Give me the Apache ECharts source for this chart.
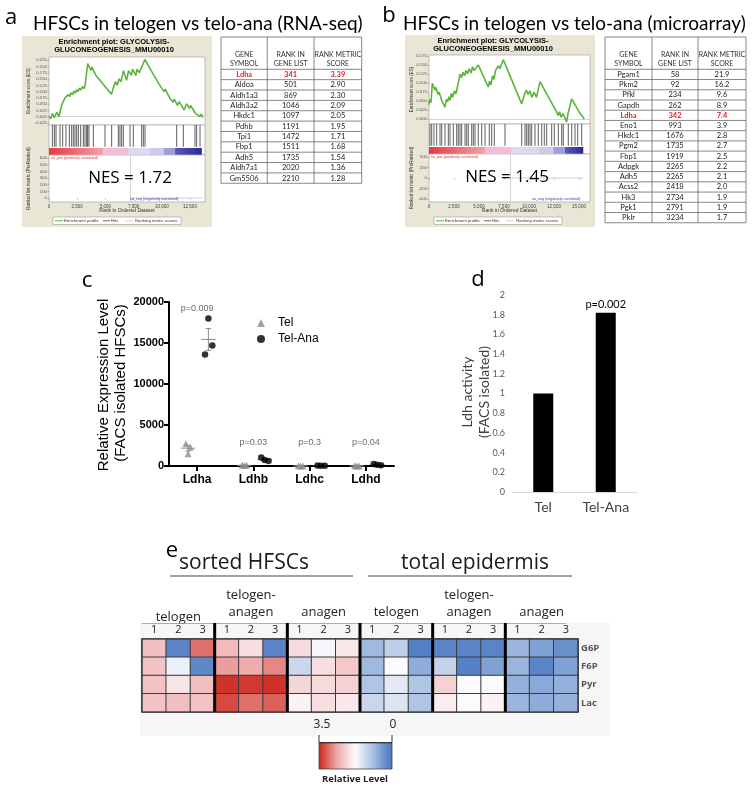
<!DOCTYPE html>
<html>
<head>
<meta charset="utf-8">
<script src="https://cdn.jsdelivr.net/npm/echarts@6.0.0/dist/echarts.min.js"></script>
<style>
html,body{margin:0;padding:0;background:#fff;}
#main{width:754px;height:790px;}
</style>
</head>
<body>
<div id="main"></div>
<script>
// ================= DATA =================
// Panel a (RNA-seq GSEA)
const esCurveA = [[0,0],[150,-0.008],[300,0.013],[470,-0.004],[680,0.018],[880,0.0],[1120,0.046],[1250,0.04],[1420,0.075],[1550,0.068],[1700,0.088],[1820,0.08],[1950,0.095],[2080,0.087],[2200,0.102],[2330,0.094],[2450,0.108],[2580,0.1],[2700,0.114],[2830,0.106],[2960,0.12],[3100,0.112],[3200,0.125],[3300,0.12],[3430,0.212],[3730,0.185],[3800,0.198],[4150,0.165],[4250,0.172],[4700,0.135],[4800,0.14],[5250,0.105],[5550,0.09],[5700,0.115],[5800,0.108],[5900,0.14],[6050,0.125],[6200,0.15],[6400,0.14],[6590,0.184],[6880,0.145],[7050,0.184],[7300,0.165],[7400,0.19],[7700,0.165],[7800,0.19],[8000,0.175],[8500,0.228],[9300,0.165],[9900,0.12],[10200,0.1],[10300,0.11],[10700,0.075],[11000,0.058],[11100,0.07],[11400,0.045],[11550,0.06],[11980,0.027],[12200,0.051],[12450,0.033],[12550,0.045],[13000,0.012],[13380,0.0],[13500,0.01],[13650,-0.003]];
const hitsA = [296,473,621,975,1212,1507,1803,2009,2157,2305,2453,2600,2807,3044,3191,3339,3428,3546,3930,4965,5556,6147,6294,6442,6590,7181,7476,8215,8363,8511,11318,11909,12943,13091,13387];
const bandBreaksA = [0,4800,7000,8950,10150,11150,13550];
const zeroCrossA = 7200;
const nesA = '1.72';
const esTicksA = [-0.025,0,0.025,0.05,0.075,0.1,0.125,0.15,0.175,0.2,0.225];
const metricTicksA = [0,100,200,300,400,500,600];
const rankTicksA = [0,2500,5000,7500,10000,12500];

// Panel b (microarray GSEA)
const esCurveB = [[0,0.04],[100,0.055],[200,0.045],[330,0.099],[600,0.08],[700,0.088],[900,0.068],[1000,0.075],[1300,0.05],[1600,0.033],[1750,0.055],[1850,0.048],[2000,0.062],[2100,0.052],[2250,0.072],[2350,0.06],[2550,0.078],[2700,0.07],[2930,0.1],[3100,0.125],[3250,0.115],[3400,0.13],[3550,0.12],[3700,0.135],[3850,0.125],[4000,0.14],[4200,0.128],[4350,0.145],[4500,0.135],[4930,0.15],[5930,0.089],[6050,0.105],[6200,0.095],[6350,0.12],[6500,0.11],[6650,0.135],[6800,0.13],[6950,0.148],[7100,0.14],[7430,0.165],[9270,0.042],[9570,0.07],[9750,0.08],[9900,0.068],[10100,0.078],[10300,0.06],[10500,0.075],[10750,0.06],[11100,0.104],[12770,0.019],[12900,0.01],[13050,0.02],[13200,0.005],[13400,0.015],[13770,-0.008],[13900,0.015],[14270,0.056],[14500,0.045],[14700,0.035],[15000,0.02],[15100,0.025],[15530,0.0]];
const hitsB = [100,270,500,770,1100,1270,1600,1930,2100,2430,2770,2930,3100,3270,3600,3770,3930,4270,4430,4600,4930,5270,5600,6030,6270,6530,7600,9270,9600,9770,9930,10100,10270,10600,10930,11270,11530,11770,12270,12530,12930,13270,13430,13930,14270,14600,14870,15270];
const bandBreaksB = [0,5600,8270,10930,12430,13600,15430];
const zeroCrossB = 8100;
const nesB = '1.45';
const esTicksB = [0,0.025,0.05,0.075,0.1,0.125,0.15,0.175];
const metricTicksB = [-500,-250,0,250,500];
const rankTicksB = [0,2500,5000,7500,10000,12500,15000];

// Tables
const tableHeader = [['GENE','SYMBOL'],['RANK IN','GENE LIST'],['RANK METRIC','SCORE']];
const genesA = ['Ldha','Aldoa','Aldh1a3','Aldh3a2','Hkdc1','Pdhb','Tpi1','Fbp1','Adh5','Aldh7a1','Gm5506'];
const ranksA = [341,501,869,1046,1097,1191,1472,1511,1735,2020,2210];
const scoresA = ['3.39','2.90','2.30','2.09','2.05','1.95','1.71','1.68','1.54','1.36','1.28'];
const genesB = ['Pgam1','Pkm2','Pfkl','Gapdh','Ldha','Eno1','Hkdc1','Pgm2','Fbp1','Adpgk','Adh5','Acss2','Hk3','Pgk1','Pklr'];
const ranksB = [58,92,234,262,342,993,1676,1735,1919,2265,2265,2418,2734,2791,3234];
const scoresB = ['21.9','16.2','9.6','8.9','7.4','3.9','2.8','2.7','2.5','2.2','2.1','2.0','1.9','1.9','1.7'];

// Panel c
const cGenes = ['Ldha','Ldhb','Ldhc','Ldhd'];
const cTel = [[2700,2300,1500],[120,80,60],[20,15,10],[20,15,10]];
const cTelAna = [[13600,18000,14700],[1050,730,600],[60,40,30],[250,150,100]];
const cPvals = ['p=0.009','p=0.03','p=0.3','p=0.04'];

// Panel d
const dCats = ['Tel','Tel-Ana'];
const dVals = [1.0, 1.82];
const dPval = 'p=0.002';

// Panel e
const eSections = ['sorted HFSCs','total epidermis'];
const eGroups = ['telogen','telogen-\nanagen','anagen','telogen','telogen-\nanagen','anagen'];
const eColNums = ['1','2','3','1','2','3','1','2','3','1','2','3','1','2','3','1','2','3'];
const eRows = ['G6P','F6P','Pyr','Lac'];
const eG6P = [2.4,0.2,3.0, 2.45,2.05,0.2, 2.1,1.7,1.95, 0.85,1.15,0.15, 0.2,0.2,0.2, 0.8,0.55,0.35];
const eF6P = [2.35,1.6,0.25, 2.7,2.6,2.85, 1.25,2.05,2.3, 0.85,1.75,0.7, 1.2,0.15,0.55, 0.8,0.2,0.55];
const ePyr = [2.35,2.0,2.4, 3.4,3.35,3.4, 2.15,2.1,2.2, 1.0,1.5,1.0, 2.2,1.75,1.75, 0.75,0.65,0.75];
const eLac = [2.35,2.4,2.35, 3.25,3.0,3.1, 1.85,2.05,1.95, 1.25,1.45,1.0, 1.9,1.75,1.85, 0.8,0.7,0.75];
const eScale = [3.5, 0];

// ================= BUILD =================
const chart = echarts.init(document.getElementById('main'));
const grids=[], xAxes=[], yAxes=[], series=[], G=[];
function addGrid(g){grids.push(g);return grids.length-1;}
function T(x,y,text,size,o){o=o||{};const al=o.align||'center', va=o.va||'middle';
  G.push({type:'text',x:x,y:y,rotation:o.rot||0,z:o.z==null?60:o.z,silent:true,
    style:{text:text,fill:o.color||'#000',fontSize:size,fontFamily:o.family||'Liberation Sans',fontWeight:o.weight||'normal',
      align:al,textAlign:al,verticalAlign:va,textVerticalAlign:va}});}
function L(x1,y1,x2,y2,c,w,z){G.push({type:'line',z:z==null?60:z,silent:true,shape:{x1:x1,y1:y1,x2:x2,y2:y2},style:{stroke:c,lineWidth:w}});}
function R(x,y,w,h,fill,stroke,lw,z){G.push({type:'rect',z:z==null?-10:z,silent:true,shape:{x:x,y:y,width:w,height:h},style:{fill:fill||null,stroke:stroke||null,lineWidth:lw||0}});}
const LG = echarts.graphic.LinearGradient;

function bandFill(k){
  if(k===0) return new LG(0,0,1,0,[{offset:0,color:'#e8383f'},{offset:1,color:'#f4a2a8'}]);
  if(k===5) return new LG(0,0,1,0,[{offset:0,color:'#5d5bb9'},{offset:1,color:'#2a2796'}]);
  return ['', '#f2bdd6', '#dcdaf1', '#cdcbeb', '#9f9dd8'][k];
}

function gsea(p){
  R(p.bx,p.by,p.bw,p.bh,'#e9e6d5',null,0,-20);
  T(p.titleX,p.by+6,'Enrichment plot: GLYCOLYSIS-',7.5,{weight:'bold'});
  T(p.titleX,p.by+14,'GLUCONEOGENESIS_MMU00010',7.5,{weight:'bold'});
  const box={show:true,backgroundColor:'#fff',borderColor:'#9a9a9a',borderWidth:0.6};
  const tickS={show:true,length:1.5,lineStyle:{color:'#777',width:0.5}};
  // ES plot
  const ge=addGrid(Object.assign({left:p.left,top:p.esTop,width:p.width,height:p.esH},box));
  xAxes.push({gridIndex:ge,type:'value',min:0,max:p.xMax,show:false});
  yAxes.push({gridIndex:ge,type:'value',min:p.esMin,max:p.esMax,axisLine:{show:false},splitLine:{show:false},
    axisTick:Object.assign({customValues:p.esTicks},tickS),
    axisLabel:{customValues:p.esTicks,fontSize:4.3,color:'#555',margin:2,formatter:v=>v.toFixed(3)}});
  series.push({type:'line',xAxisIndex:ge,yAxisIndex:ge,data:p.curve,symbol:'none',silent:true,z:5,
    lineStyle:{color:'#5db43c',width:1.6},
    markLine:{silent:true,symbol:'none',label:{show:false},lineStyle:{color:'#b8b8b8',width:0.6,type:'solid'},data:[{yAxis:0}]}});
  // hits + band
  const gh=addGrid(Object.assign({left:p.left,top:p.hitsTop,width:p.width,height:p.hitsH},box));
  xAxes.push({gridIndex:gh,type:'value',min:0,max:p.xMax,show:false});
  yAxes.push({gridIndex:gh,type:'value',min:0,max:30,show:false});
  series.push({type:'custom',xAxisIndex:gh,yAxisIndex:gh,silent:true,data:p.hits.map(r=>[r,30]),
    renderItem:(params,api)=>{const a=api.coord([api.value(0),8.2]);const b=api.coord([api.value(0),30]);
      return {type:'line',shape:{x1:a[0],y1:a[1],x2:b[0],y2:b[1]},style:{stroke:'#1a1a1a',lineWidth:0.7}};}});
  const bands=[];for(let i=0;i<p.bands.length-1;i++)bands.push([p.bands[i],p.bands[i+1],i]);
  series.push({type:'custom',xAxisIndex:gh,yAxisIndex:gh,silent:true,data:bands,
    renderItem:(params,api)=>{const s=api.coord([api.value(0),0.3]);const e=api.coord([api.value(1),7]);
      return {type:'rect',shape:{x:s[0],y:e[1],width:e[0]-s[0],height:s[1]-e[1]},style:{fill:bandFill(api.value(2))}};}});
  // metric
  const gm=addGrid(Object.assign({left:p.left,top:p.metTop,width:p.width,height:p.metH},box));
  xAxes.push({gridIndex:gm,type:'value',min:0,max:p.xMax,axisLine:{show:false},splitLine:{show:false},
    axisTick:Object.assign({customValues:p.rankTicks},tickS),
    axisLabel:{customValues:p.rankTicks,fontSize:4.5,color:'#444',margin:2,formatter:v=>v.toLocaleString('en-US')}});
  yAxes.push({gridIndex:gm,type:'value',min:p.metMin,max:p.metMax,axisLine:{show:false},splitLine:{show:false},
    axisTick:Object.assign({customValues:p.metTicks},tickS),
    axisLabel:{customValues:p.metTicks,fontSize:4.3,color:'#555',margin:2,formatter:v=>String(v)}});
  series.push({type:'line',xAxisIndex:gm,yAxisIndex:gm,data:[[p.zeroCross,0],[p.xEnd,0]],symbol:'none',silent:true,
    lineStyle:{color:'#9999cc',width:0.5},
    markLine:{silent:true,symbol:'none',label:{show:false},lineStyle:{color:'#aaa',width:0.5,type:'solid'},data:[{xAxis:p.zeroCross}]}});
  const cx=p.left+p.width/2;
  T(cx,p.metTop+p.metH+9,'Rank in Ordered Dataset',5,{color:'#333'});
  T(p.left+2,p.metTop+3,'na_pos (positively correlated)',3.6,{align:'left',color:'#e03030'});
  T(p.negX,p.metTop+p.metH-3,'na_neg (negatively correlated)',3.6,{align:'left',color:'#3a3ac0'});
  T(p.bx+7,p.esTop+p.esH/2,'Enrichment score (ES)',4.5,{rot:Math.PI/2,color:'#333'});
  T(p.bx+7,p.metTop+p.metH/2,'Ranked list metric (PreRanked)',4.5,{rot:Math.PI/2,color:'#333'});
  // legend box
  const lx=p.legX, ly=p.by+p.bh-10;
  R(lx,ly,128,7.5,'#fff','#888',0.5,5);
  L(lx+2,ly+3.75,lx+10,ly+3.75,'#5db43c',1);
  T(lx+11,ly+3.9,'Enrichment profile',4.3,{align:'left',color:'#333'});
  L(lx+50,ly+3.75,lx+57,ly+3.75,'#222',0.7);
  T(lx+58,ly+3.9,'Hits',4.3,{align:'left',color:'#333'});
  L(lx+72,ly+3.75,lx+80,ly+3.75,'#bbb',0.7);
  T(lx+82,ly+3.9,'Ranking metric scores',4.3,{align:'left',color:'#333'});
  // NES
  T(p.nesX,p.nesY,'NES = '+p.nes,17,{family:'Open Sans',color:'#000',z:80});
}

gsea({bx:22,by:36,bw:190,bh:191,titleX:114,left:49,width:156,xMax:13830,
  esTop:57,esH:68,esMin:-0.033,esMax:0.238,esTicks:esTicksA,curve:esCurveA,
  hitsTop:125,hitsH:30,hits:hitsA,bands:bandBreaksA,
  metTop:155,metH:47,metMin:-60,metMax:645,metTicks:metricTicksA,rankTicks:rankTicksA,
  zeroCross:zeroCrossA,xEnd:13550,negX:130,legX:53,nes:nesA,nesX:130,nesY:178});
gsea({bx:405,by:35,bw:190,bh:192,titleX:493,left:429,width:161,xMax:16100,
  esTop:55,esH:69,esMin:-0.014,esMax:0.178,esTicks:esTicksB,curve:esCurveB,
  hitsTop:124,hitsH:30,hits:hitsB,bands:bandBreaksB,
  metTop:154,metH:48,metMin:-571,metMax:571,metTicks:metricTicksB,rankTicks:rankTicksB,
  zeroCross:zeroCrossB,xEnd:15430,negX:532,legX:434,nes:nesB,nesX:507,nesY:177});

// panel labels / titles
const LF='Open Sans';
T(11,18,'a',22,{family:LF});
T(389,16,'b',22,{family:LF});
T(87,281,'c',22,{family:LF});
T(478,280,'d',22,{family:LF});
T(172,551,'e',22,{family:LF});
T(33,24,'HFSCs in telogen vs telo-ana (RNA-seq)',19,{align:'left',family:'Lato'});
T(403,24,'HFSCs in telogen vs telo-ana (microarray)',19,{align:'left',family:'Lato'});

// tables
function table(cols,top,hb,rh,genes,ranks,scores){
  const n=genes.length, bottom=hb+rh*n, c='#555';
  cols.forEach(x=>L(x,top,x,bottom,c,0.7));
  L(cols[0],top,cols[3],top,c,0.7);
  for(let i=0;i<=n;i++) L(cols[0],hb+rh*i,cols[3],hb+rh*i,c,0.7);
  for(let j=0;j<3;j++){const cx=(cols[j]+cols[j+1])/2;
    T(cx,top+17.3,tableHeader[j][0],7,{family:'Lato',color:'#333'});
    T(cx,top+26.3,tableHeader[j][1],7,{family:'Lato',color:'#333'});}
  for(let i=0;i<n;i++){const y=hb+rh*(i+0.5);const hi=genes[i]==='Ldha';
    const o={family:'Lato',color:hi?'#e3202b':'#222',weight:hi?'bold':'normal'};
    T((cols[0]+cols[1])/2,y,genes[i],7.5,o);
    T((cols[1]+cols[2])/2,y,String(ranks[i]),7.5,o);
    T((cols[2]+cols[3])/2,y,scores[i],7.5,o);}
}
table([221,267.3,314,361.7],37,69.3,10.36,genesA,ranksA,scoresA);
table([605,652,698,746],37,69.3,10.23,genesB,ranksB,scoresB);

// ---- panel c ----
const ci=addGrid({left:169,top:302,width:225,height:164});
const catTicks=cGenes.map((g,i)=>i+1);
xAxes.push({gridIndex:ci,type:'value',min:0.5,max:4.5,splitLine:{show:false},
  axisLine:{show:true,lineStyle:{color:'#000',width:2}},
  axisTick:{show:true,customValues:catTicks,length:5,lineStyle:{color:'#000',width:2}},
  axisLabel:{customValues:catTicks,formatter:v=>cGenes[Math.round(v)-1],fontSize:12,fontWeight:'bold',color:'#000',margin:8,fontFamily:'Liberation Sans'}});
yAxes.push({gridIndex:ci,type:'value',min:0,max:20000,interval:5000,splitLine:{show:false},
  axisLine:{show:true,lineStyle:{color:'#000',width:2}},
  axisTick:{show:true,length:5,lineStyle:{color:'#000',width:2}},
  axisLabel:{fontSize:11,fontWeight:'bold',color:'#000',margin:5,fontFamily:'Liberation Sans',formatter:v=>String(v)}});
const telOff=[-0.2,-0.12,-0.16], anaOff=[0.14,0.2,0.27];
const telC=-0.16, anaC=0.2;
function meanSem(a){const n=a.length,m=a.reduce((s,v)=>s+v,0)/n;const sd=Math.sqrt(a.reduce((s,v)=>s+(v-m)*(v-m),0)/(n-1));return [m,sd/Math.sqrt(n)];}
function msSeries(vals,off,color){
  return {type:'custom',xAxisIndex:ci,yAxisIndex:ci,silent:true,z:3,
    data:vals.map((a,i)=>{const r=meanSem(a);return [i+1+off,r[0],r[1]];}),
    renderItem:(params,api)=>{const x=api.value(0),m=api.value(1),s=api.value(2);
      const pm=api.coord([x,m]),pt=api.coord([x,m+s]),pb=api.coord([x,m-s]);
      const hw=api.size([0.13,0])[0],cap=api.size([0.05,0])[0];
      const st={stroke:color,lineWidth:1};
      return {type:'group',children:[
        {type:'line',shape:{x1:pm[0]-hw,y1:pm[1],x2:pm[0]+hw,y2:pm[1]},style:st},
        {type:'line',shape:{x1:pt[0],y1:pt[1],x2:pb[0],y2:pb[1]},style:st},
        {type:'line',shape:{x1:pt[0]-cap,y1:pt[1],x2:pt[0]+cap,y2:pt[1]},style:st},
        {type:'line',shape:{x1:pb[0]-cap,y1:pb[1],x2:pb[0]+cap,y2:pb[1]},style:st}]};}};
}
series.push(msSeries(cTel,telC,'#9a9a9a'));
series.push(msSeries(cTelAna,anaC,'#8a8a8a'));
const telPts=[],anaPts=[];
cTel.forEach((a,i)=>a.forEach((v,j)=>telPts.push([i+1+telOff[j],v])));
cTelAna.forEach((a,i)=>a.forEach((v,j)=>anaPts.push([i+1+anaOff[j],v])));
series.push({name:'Tel',type:'scatter',xAxisIndex:ci,yAxisIndex:ci,data:telPts,symbol:'triangle',symbolSize:7,itemStyle:{color:'#8c8c8c'},silent:true,z:4});
series.push({name:'Tel-Ana',type:'scatter',xAxisIndex:ci,yAxisIndex:ci,data:anaPts,symbol:'circle',symbolSize:6.5,itemStyle:{color:'#000'},silent:true,z:5});
const pLabelY=[19150,2900,2900,2900];
series.push({type:'scatter',xAxisIndex:ci,yAxisIndex:ci,silent:true,symbolSize:0,
  data:cPvals.map((t,i)=>[i+1,pLabelY[i]]),
  label:{show:true,position:'inside',formatter:p=>cPvals[p.dataIndex],fontSize:9,color:'#444',fontFamily:'Liberation Sans'}});
T(104,385,'Relative Expression Level',15,{rot:Math.PI/2});
T(121,383,'(FACS isolated HFSCs)',15,{rot:Math.PI/2});

// ---- panel d ----
const di=addGrid({left:512,top:295,width:125,height:197});
xAxes.push({gridIndex:di,type:'category',data:dCats,axisLine:{show:true,lineStyle:{color:'#d9d9d9',width:1}},axisTick:{show:false},
  axisLabel:{fontSize:14,color:'#404040',margin:8,fontFamily:'Lato'}});
yAxes.push({gridIndex:di,type:'value',min:0,max:2,interval:0.2,axisLine:{show:false},axisTick:{show:false},splitLine:{show:false},
  axisLabel:{fontSize:9,color:'#595959',margin:7,fontFamily:'Lato',formatter:v=>String(Math.round(v*10)/10)}});
series.push({type:'bar',xAxisIndex:di,yAxisIndex:di,barWidth:20,silent:true,itemStyle:{color:'#000'},
  data:dVals.map((v,i)=>i===1?{value:v,label:{show:true,position:'top',distance:3,formatter:dPval,fontSize:11,color:'#000',fontFamily:'Lato'}}:v)});
T(467,392,'Ldh activity',14,{rot:Math.PI/2,family:'Lato',color:'#404040'});
T(484,392,'(FACS isolated)',14,{rot:Math.PI/2,family:'Lato',color:'#404040'});

// ---- panel e ----
const HX=142,HY=639,HW=436,HH=73,NC=18;
const cw=HW/NC;
const ei=addGrid({left:HX,top:HY,width:HW,height:HH});
xAxes.push({gridIndex:ei,type:'category',position:'top',data:eColNums.map((c,i)=>'c'+i),axisLine:{show:false},axisTick:{show:false},
  axisLabel:{interval:0,formatter:(v,i)=>eColNums[i],fontSize:11,color:'#222',margin:4,fontFamily:'Open Sans'}});
yAxes.push({gridIndex:ei,type:'category',position:'right',inverse:true,data:eRows,axisLine:{show:false},axisTick:{show:false},
  axisLabel:{fontSize:9.5,fontWeight:'bold',color:'#555',margin:3,fontFamily:'Open Sans'}});
const heatData=[];
[eG6P,eF6P,ePyr,eLac].forEach((row,r)=>row.forEach((v,c)=>heatData.push([c,r,v])));
const heatIdx=series.length;
series.push({type:'heatmap',xAxisIndex:ei,yAxisIndex:ei,data:heatData,silent:true,
  itemStyle:{borderColor:'#3a3a3a',borderWidth:1},emphasis:{disabled:true}});
const heatColors=['#4474bf','#a3bbe0','#fbfbfd','#eeaaaa','#cb2318'];
R(140,623,470,113,'#f6f6f6',null,0,-20);
T(244,563,eSections[0],21,{family:'Open Sans',color:'#1a1a1a'});
T(475,563,eSections[1],21,{family:'Open Sans',color:'#1a1a1a'});
L(170,576,353,576,'#444',1);
L(368,576,572,576,'#444',1);
eGroups.forEach((g,k)=>{const cx=HX+(3*k+1.5)*cw;const parts=g.split('\n');
  if(parts.length===2){T(cx,595,parts[0],13,{family:'Open Sans',color:'#222'});T(cx,612,parts[1],13,{family:'Open Sans',color:'#222'});}
  else T(cx,k===0?617:612,g,13,{family:'Open Sans',color:'#222'});});
L(HX,623.5,566,623.5,'#999',0.8);
for(let k=1;k<6;k++){const x=HX+3*k*cw;L(x,623,x,HY+HH,'#000',3);}
R(HX,HY,HW,HH,null,'#333',1.2,60);
// colour scale
R(319,743,73,26,new LG(0,0,1,0,heatColors.slice().reverse().map((c,i)=>({offset:i/4,color:c}))),'#444',0.8,5);
G.push({type:'polyline',z:60,silent:true,shape:{points:[[319,735],[319,742.5],[392,742.5],[392,735]]},style:{stroke:'#333',lineWidth:1,fill:null}});
T(322,725,String(eScale[0]),12,{family:'Open Sans',color:'#222'});
T(393,725,String(eScale[1]),12,{family:'Open Sans',color:'#222'});
T(355,779,'Relative Level',9.5,{family:'Open Sans',weight:'bold',color:'#222'});

chart.setOption({
  animation:false,
  backgroundColor:'#fff',
  grid:grids, xAxis:xAxes, yAxis:yAxes, series:series,
  legend:{data:['Tel','Tel-Ana'],orient:'vertical',left:252,top:312,itemWidth:8,itemHeight:8,itemGap:4,selectedMode:false,
    textStyle:{fontSize:12,fontFamily:'Liberation Sans',color:'#000',padding:[0,0,0,8]}},
  visualMap:{show:false,type:'continuous',min:0,max:3.5,seriesIndex:heatIdx,inRange:{color:heatColors}},
  graphic:{elements:G}
});
</script>
</body>
</html>
